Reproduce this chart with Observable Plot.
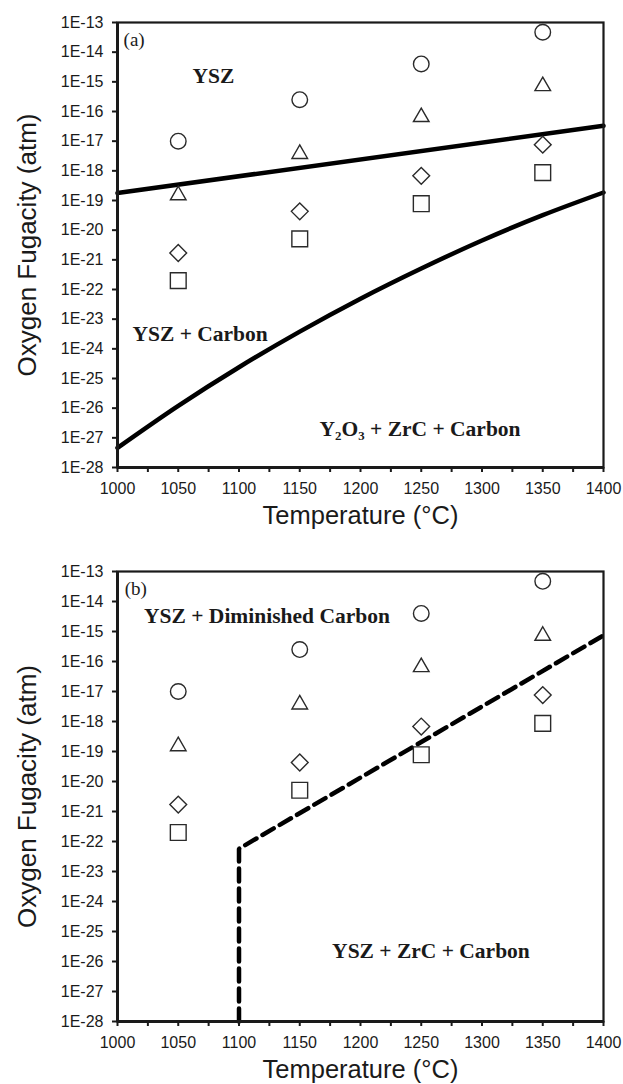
<!DOCTYPE html>
<html><head><meta charset="utf-8">
<script src="https://cdn.jsdelivr.net/npm/d3@7"></script>
<script src="https://cdn.jsdelivr.net/npm/@observablehq/plot@0.6"></script>
<style>
body{margin:0;background:#fff;}
#chart{width:623px;}
svg{display:block;}
</style></head><body><div id="chart"></div>
<script>
// ---- data ----
const temperatures = [1050, 1150, 1250, 1350];
const circleSeries   = [1.0e-17, 2.5e-16, 4.0e-15, 4.7e-14];
const triangleSeries = [1.5e-19, 3.7e-18, 6.5e-17, 7.2e-16];
const diamondSeries  = [1.7e-21, 4.3e-20, 6.8e-19, 7.6e-18];
const squareSeries   = [2.0e-22, 5.1e-21, 7.8e-20, 8.7e-19];

// panel (a) phase boundaries
const upperBoundaryT   = [1000, 1400];
const upperBoundaryPO2 = [1.78e-19, 3.3e-17];
const lowerBoundaryT   = [1000, 1050, 1100, 1150, 1200, 1250, 1300, 1350, 1400];
const lowerBoundaryPO2 = [4.6e-28, 1.2e-26, 2.4e-25, 3.8e-24, 4.9e-23, 5.1e-22, 4.5e-21, 3.2e-20, 1.86e-19];
// panel (b) boundary
const dashedBoundaryT   = [1100, 1100, 1400];
const dashedBoundaryPO2 = [1e-28, 5.75e-23, 7.41e-16];

// axis ticks
const xTickLabels = [1000, 1050, 1100, 1150, 1200, 1250, 1300, 1350, 1400];
const xMinorTicks = [1025, 1075, 1125, 1175, 1225, 1275, 1325, 1375];
const yTickLabels = ["1E-28","1E-27","1E-26","1E-25","1E-24","1E-23","1E-22","1E-21","1E-20","1E-19","1E-18","1E-17","1E-16","1E-15","1E-14","1E-13"];

// region annotations (anchored in data units)
const tagA = ["(a)"], tagAT = [1005], tagAP = [1.62e-14];
const regionTextA = ["YSZ", "YSZ + Carbon", "Y\u2082O\u2083 + ZrC + Carbon"];
const regionTA = [1079, 1068, 1249];
const regionPA = [9.1e-16, 1.78e-24, 1.12e-27];
const tagB = ["(b)"], tagBT = [1006], tagBP = [1.7e-14];
const regionTextB = ["YSZ + Diminished Carbon", "YSZ + ZrC + Carbon"];
const regionTB = [1123, 1258];
const regionPB = [1.86e-15, 1.26e-26];

// ---- helpers ----
const yTickValues = yTickLabels.map(s => +s);
const pts = (xs, ys) => xs.map((x, i) => ({x, y: ys[i]}));
const labels = (ts, xs, ys) => ts.map((t, i) => ({t, x: xs[i], y: ys[i]}));
const diamondSymbol = {draw(ctx, size) { const r = Math.sqrt(size / Math.PI); ctx.moveTo(0, -r); ctx.lineTo(r, 0); ctx.lineTo(0, r); ctx.lineTo(-r, 0); ctx.closePath(); }};
const ink = "#1a1a1a";
const sans = "'Liberation Sans', Arial, sans-serif";
const serif = "'Liberation Serif', 'Times New Roman', serif";

function markers() {
  const common = {x: "x", y: "y", stroke: "#2a2a2a", fill: "white", strokeWidth: 1.4};
  return [
    Plot.dot(pts(temperatures, circleSeries),   {...common, symbol: "circle", r: 7.8}),
    Plot.dot(pts(temperatures, triangleSeries), {...common, symbol: "triangle", r: 5.8}),
    Plot.dot(pts(temperatures, diamondSeries),  {...common, symbol: diamondSymbol, r: 8.4}),
    Plot.dot(pts(temperatures, squareSeries),   {...common, symbol: "square", r: 8.9})
  ];
}

function panel({height, marginTop, marginBottom, lines, tag, regions}) {
  return Plot.plot({
    width: 623, height, marginLeft: 117, marginRight: 20, marginTop, marginBottom,
    x: {domain: [1000, 1400]},
    y: {type: "log", domain: [1e-28, 1e-13]},
    style: {fontFamily: sans, color: ink, background: "white", overflow: "visible"},
    marks: [
      ...lines,
      ...markers(),
      Plot.text(tag, {x: "x", y: "y", text: "t", fontFamily: serif, fontSize: 19, textAnchor: "start", lineAnchor: "bottom", fill: ink}),
      Plot.text(regions, {x: "x", y: "y", text: "t", fontFamily: serif, fontWeight: "bold", fontSize: 21.5, lineAnchor: "bottom", fill: ink}),
      Plot.frame({stroke: ink, strokeWidth: 2.2}),
      Plot.ruleX([1000], {stroke: ink, strokeWidth: 3}),
      Plot.ruleY([1e-28], {stroke: ink, strokeWidth: 3}),
      Plot.axisY({ticks: yTickValues, tickFormat: d => yTickLabels[yTickValues.indexOf(d)], tickSize: 5, tickPadding: 9, fontSize: 16, strokeWidth: 2, label: null}),
      Plot.axisX({ticks: xTickLabels, tickFormat: d => String(d), tickSize: 5, tickPadding: 10, fontSize: 16, strokeWidth: 2, label: null}),
      Plot.axisX({ticks: xMinorTicks, tickFormat: () => "", tickSize: 5, strokeWidth: 2, label: null}),
      Plot.text(["Oxygen Fugacity (atm)"], {text: d => d, frameAnchor: "left", dx: -90, rotate: -90, fontSize: 26, textAnchor: "middle", lineAnchor: "middle", fill: ink}),
      Plot.text(["Temperature (\u00B0C)"], {text: d => d, frameAnchor: "bottom", dy: 56, fontSize: 25.5, textAnchor: "middle", lineAnchor: "bottom", fill: ink})
    ]
  });
}

const lineStyle = {x: "x", y: "y", stroke: "#000", strokeWidth: 4.5};
const chartA = panel({
  height: 555, marginTop: 22, marginBottom: 88,
  lines: [
    Plot.line(pts(upperBoundaryT, upperBoundaryPO2), lineStyle),
    Plot.line(pts(lowerBoundaryT, lowerBoundaryPO2), {...lineStyle, curve: "catmull-rom"})
  ],
  tag: labels(tagA, tagAT, tagAP),
  regions: labels(regionTextA, regionTA, regionPA)
});
const chartB = panel({
  height: 529, marginTop: 16, marginBottom: 63,
  lines: [
    Plot.line(pts(dashedBoundaryT, dashedBoundaryPO2), {...lineStyle, strokeDasharray: "13,7", strokeLinejoin: "miter"})
  ],
  tag: labels(tagB, tagBT, tagBP),
  regions: labels(regionTextB, regionTB, regionPB)
});
document.getElementById("chart").append(chartA, chartB);
</script></body></html>
